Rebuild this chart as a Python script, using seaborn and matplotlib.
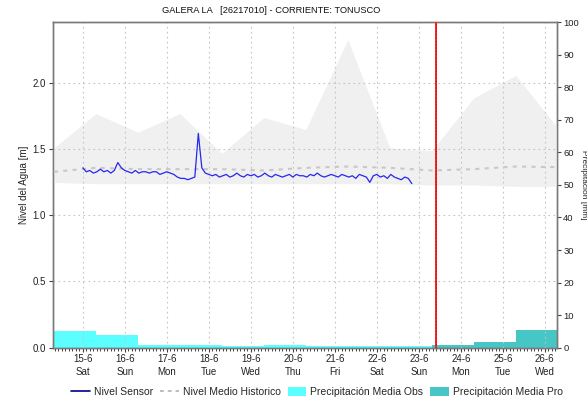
import numpy as np
import pandas as pd
import matplotlib
matplotlib.use("Agg")
import matplotlib.pyplot as plt
from matplotlib.lines import Line2D
from matplotlib.patches import Patch
from matplotlib.ticker import MultipleLocator
import seaborn as sns

# ---- data -------------------------------------------------------------
title = "GALERA LA   [26217010] - CORRIENTE: TONUSCO"
day_labels = ["15-6\nSat", "16-6\nSun", "17-6\nMon", "18-6\nTue", "19-6\nWed",
              "20-6\nThu", "21-6\nFri", "22-6\nSat", "23-6\nSun", "24-6\nMon",
              "25-6\nTue", "26-6\nWed"]

# sensor water level [m], every 2 hours starting 15-6
sensor_step_days = 1 / 12
sensor_level = [
    1.36, 1.33, 1.34, 1.32, 1.33, 1.35, 1.33, 1.34, 1.32, 1.34, 1.40, 1.36,
    1.34, 1.33, 1.32, 1.34, 1.32, 1.33, 1.33, 1.32, 1.33, 1.33, 1.31, 1.32,
    1.33, 1.32, 1.31, 1.29, 1.28, 1.28, 1.27, 1.28, 1.29, 1.62, 1.36, 1.32,
    1.31, 1.30, 1.31, 1.29, 1.30, 1.31, 1.29, 1.30, 1.32, 1.30, 1.29, 1.31,
    1.30, 1.31, 1.29, 1.30, 1.32, 1.30, 1.29, 1.31, 1.30, 1.29, 1.30, 1.31,
    1.29, 1.31, 1.30, 1.30, 1.29, 1.31, 1.30, 1.32, 1.30, 1.29, 1.30, 1.31,
    1.30, 1.29, 1.31, 1.30, 1.29, 1.30, 1.28, 1.31, 1.30, 1.29, 1.25, 1.30,
    1.31, 1.29, 1.30, 1.28, 1.31, 1.29, 1.28, 1.27, 1.29, 1.28, 1.24,
]

# historical daily envelope and mean level [m]
hist_days = [-0.69, 0.31, 1.31, 2.31, 3.31, 4.31, 5.31, 6.31, 7.31, 8.31,
             9.31, 10.31, 11.31]
hist_upper = [1.51, 1.77, 1.63, 1.77, 1.47, 1.74, 1.65, 2.33, 1.51, 1.49,
              1.89, 2.06, 1.66]
hist_lower = [1.25, 1.24, 1.24, 1.24, 1.24, 1.24, 1.24, 1.24, 1.24, 1.23,
              1.23, 1.22, 1.22]
hist_mean = [1.33, 1.36, 1.35, 1.35, 1.35, 1.34, 1.36, 1.37, 1.36, 1.34,
             1.35, 1.37, 1.365]

# daily mean precipitation [mm]
obs_start = [-1.69, -0.69, 0.31, 1.31, 2.31, 3.31, 4.31, 5.31, 6.31, 7.31]
obs_precip = [6.5, 5.0, 3.8, 0.7, 0.7, 0.4, 0.7, 0.6, 0.35, 0.6]
pro_start = [8.31, 9.31, 10.31]
pro_precip = [0.7, 1.8, 5.5]

now_day = 8.40

# ---- figure -----------------------------------------------------------
sns.set_theme(style="white")
plt.rcParams["font.family"] = ["Liberation Sans", "DejaVu Sans"]

fig = plt.figure(figsize=(5.87, 4.03), dpi=100)
ax = fig.add_axes([0.0903, 0.1377, 0.8586, 0.8065])
ax2 = ax.twinx()

grid_kw = dict(color="#C4C4C4", lw=0.8, ls=(0, (1.5, 3)))

# precipitation on secondary axis (drawn behind the level axis)
ax2.bar(obs_start, obs_precip, width=1.0, align="edge", color="#5CFFFF",
        edgecolor="none", zorder=1)
ax2.bar(pro_start, pro_precip, width=1.0, align="edge", color="#47C6C6",
        edgecolor="none", zorder=1)
ax2.set_ylim(0, 100)
ax2.yaxis.set_major_locator(MultipleLocator(10))
ax2.set_ylabel("Precipitación [mm]", rotation=270, fontsize=6,
               color="#222222")
ax2.yaxis.label.set_verticalalignment("center")
ax2.yaxis.label.set_horizontalalignment("center")
ax2.yaxis.set_label_coords(1.052, 0.5)

ax.set_zorder(ax2.get_zorder() + 1)
ax.patch.set_visible(False)

# historical envelope and mean
ax.fill_between(hist_days, hist_lower, hist_upper, color="#F0F0F0", lw=0,
                zorder=1)
ax.set_xlim(-0.71, 11.29)
ax.set_ylim(0, 2.46)
for d in range(len(day_labels)):
    ax.axvline(d, **grid_kw, zorder=2)
for v in [0.5, 1.0, 1.5, 2.0]:
    ax.axhline(v, **grid_kw, zorder=2)

mean_df = pd.DataFrame({"day": hist_days, "level": hist_mean})
sns.lineplot(data=mean_df, x="day", y="level", ax=ax, color="#C8C8C8",
             lw=1.5, zorder=3)
ax.lines[-1].set_linestyle((0, (2, 2.5)))

sensor_df = pd.DataFrame({
    "day": np.arange(len(sensor_level)) * sensor_step_days,
    "level": sensor_level,
})
sns.lineplot(data=sensor_df, x="day", y="level", ax=ax, color="#2626F2",
             lw=0.9, zorder=4)

ax.axvline(now_day, color="#FF1A1A", lw=1.4, zorder=5)
ax.axvline(now_day, color="#A00000", lw=0.6, ls=(0, (1, 3)), zorder=6)

# axes cosmetics
ax.set_xticks(range(len(day_labels)))
ax.set_xticklabels(day_labels, fontsize=7, linespacing=1.3)
ax.xaxis.set_minor_locator(MultipleLocator(1 / 12))
ax.set_yticks([0.0, 0.5, 1.0, 1.5, 2.0])
ax.set_yticklabels(["0.0", "0.5", "1.0", "1.5", "2.0"], fontsize=7)
ax.set_xlabel("")
ax.set_ylabel("Nivel del Agua [m]", fontsize=7, labelpad=3, color="#222222")
ax.tick_params(axis="both", which="major", direction="out", length=3,
               width=0.8, color="#444444", labelcolor="#222222", pad=2,
               bottom=True, left=True)
ax.tick_params(axis="x", which="minor", direction="out", length=2,
               width=0.7, color="#444444", bottom=True)
ax2.tick_params(axis="y", direction="out", length=3, width=0.8,
                color="#444444", labelcolor="#222222", labelsize=6.8, pad=1.5,
                right=True)
for a in (ax, ax2):
    for s in a.spines.values():
        s.set_color("#7A7A7A")
        s.set_linewidth(1.0)

fig.suptitle(title, x=0.462, y=0.985, fontsize=6.7, color="#111111")

handles = [
    Line2D([], [], color="#00008B", lw=1.2),
    Line2D([], [], color="#BDBDBD", lw=1.4, ls=(0, (2, 2))),
    Patch(facecolor="#5CFFFF", edgecolor="none"),
    Patch(facecolor="#47C6C6", edgecolor="none"),
]
labels = ["Nivel Sensor", "Nivel Medio Historico", "Precipitación Media Obs",
          "Precipitación Media Pro"]
fig.legend(handles, labels, loc="center", bbox_to_anchor=(0.54, 0.027),
           ncol=4, frameon=False, fontsize=7.5, handlelength=1.8,
           handleheight=0.9, handletextpad=0.35, columnspacing=0.7)

fig.savefig("out.png", dpi=100)
